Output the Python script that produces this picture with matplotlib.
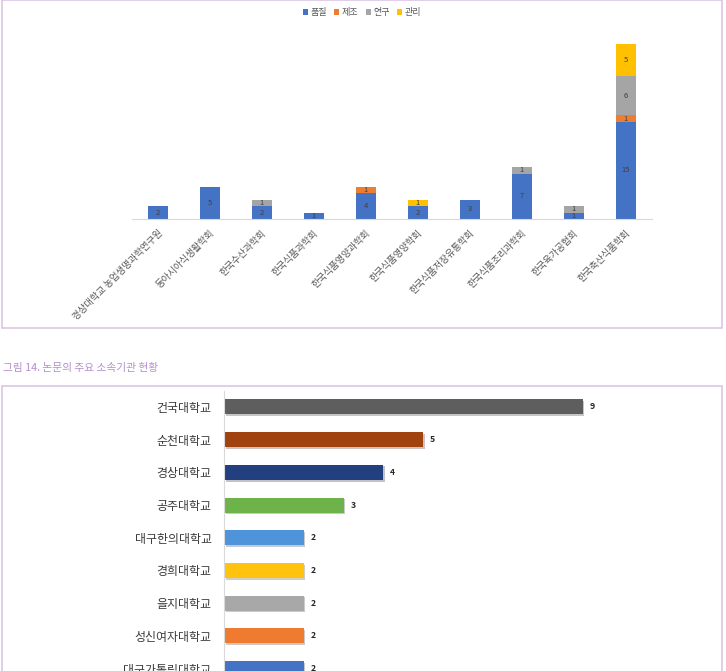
import matplotlib
matplotlib.use('Agg')
import matplotlib.pyplot as plt
import matplotlib.patheffects as pe
from matplotlib.patches import Rectangle
import numpy as np

plt.rcParams['font.family'] = ['Noto Sans CJK KR', 'DejaVu Sans']

# top chart: 학회별 분류
societies = ['경상대학교 농업생명과학연구원', '동아시아식생활학회', '한국수산과학회', '한국식품과학회',
             '한국식품영양과학회', '한국식품영양학회', '한국식품저장유통학회', '한국식품조리과학회',
             '한국육가공협회', '한국축산식품학회']
quality = [2, 5, 2, 1, 4, 2, 3, 7, 1, 15]
making = [0, 0, 0, 0, 1, 0, 0, 0, 0, 1]
research = [0, 0, 1, 0, 0, 0, 0, 1, 1, 6]
manage = [0, 0, 0, 0, 0, 1, 0, 0, 0, 5]
series_names = ['품질', '제조', '연구', '관리']
series_colors = ['#4472c4', '#ed7d31', '#a5a5a5', '#ffc000']

# bottom chart: 주요 소속기관
schools = ['건국대학교', '순천대학교', '경상대학교', '공주대학교', '대구한의대학교',
           '경희대학교', '을지대학교', '성신여자대학교', '대구가톨릭대학교']
counts = [9, 5, 4, 3, 2, 2, 2, 2, 2]
school_colors = ['#5e5e5e', '#a0430f', '#22407f', '#6db34a', '#4f93da',
                 '#ffc20e', '#a8a8a8', '#ee7b30', '#4472c4']

W, H = 726, 671
fig = plt.figure(figsize=(W / 100, H / 100), dpi=100)


def box(x0, y0, x1, y1):
    # pixel coords from top-left -> figure fraction
    return [x0 / W, 1 - y1 / H, (x1 - x0) / W, (y1 - y0) / H]


# frames
for (x0, y0, x1, y1) in [(2, 0, 722, 328), (2, 386, 722, 700)]:
    l, b, w, h = box(x0, y0, x1, y1)
    fig.add_artist(Rectangle((l, b), w, h, transform=fig.transFigure,
                             fill=False, edgecolor='#dcc6e6', linewidth=1.2))

# --- stacked columns ---
ax = fig.add_axes(box(132, 44, 652, 219))
x = np.arange(len(societies))
bottom = np.zeros(len(societies))
handles = []
for vals, name, col in zip([quality, making, research, manage], series_names, series_colors):
    bars = ax.bar(x, vals, 0.4, bottom=bottom, color=col, label=name)
    handles.append(bars)
    ax.bar_label(bars, labels=['' if v == 0 else str(v) for v in vals], label_type='center',
                 fontsize=5.5, color='#404040')
    bottom += np.array(vals)

ax.set_xlim(-0.5, len(societies) - 0.5)
ax.set_ylim(0, 27)
ax.set_yticks([])
for s in ['top', 'right', 'left']:
    ax.spines[s].set_visible(False)
ax.spines['bottom'].set_color('#d9d9d9')
ax.set_xticks(x)
ax.set_xticklabels(societies, rotation=45, ha='right', rotation_mode='anchor',
                   fontsize=6.8, color='#595959')
ax.tick_params(axis='x', length=0, pad=7)

fig.legend(handles=handles, labels=series_names, loc='upper center', ncol=4,
           bbox_to_anchor=(362 / W, 1), frameon=False, fontsize=6.5,
           handlelength=0.55, handleheight=0.55, handletextpad=0.3, columnspacing=0.8,
           labelcolor='#595959')

# caption
fig.text(3 / W, 1 - 368 / H, '그림 14. 논문의 주요 소속기관 현황', fontsize=7.7,
         color='#b48ccf', va='center', ha='left')

# --- horizontal bars ---
ax2 = fig.add_axes(box(224, 390.6, 702, 684.9))
y = np.arange(len(schools))
hb = ax2.barh(y, counts, 0.46, color=school_colors,
              path_effects=[pe.SimplePatchShadow(offset=(1.2, -1.2), alpha=0.25), pe.Normal()])
ax2.bar_label(hb, padding=5, fontsize=6.2, fontweight='bold', color='#262626')
ax2.set_xlim(0, 12)
ax2.set_ylim(len(schools) - 0.5, -0.5)
ax2.set_xticks([])
ax2.set_yticks(y)
ax2.set_yticklabels(schools, fontsize=8.6, color='#3a3a3a', fontweight='medium')
ax2.tick_params(axis='y', length=0, pad=9)
for s in ['top', 'right', 'bottom']:
    ax2.spines[s].set_visible(False)
ax2.spines['left'].set_color('#d9d9d9')

fig.savefig('out.png', dpi=100)
